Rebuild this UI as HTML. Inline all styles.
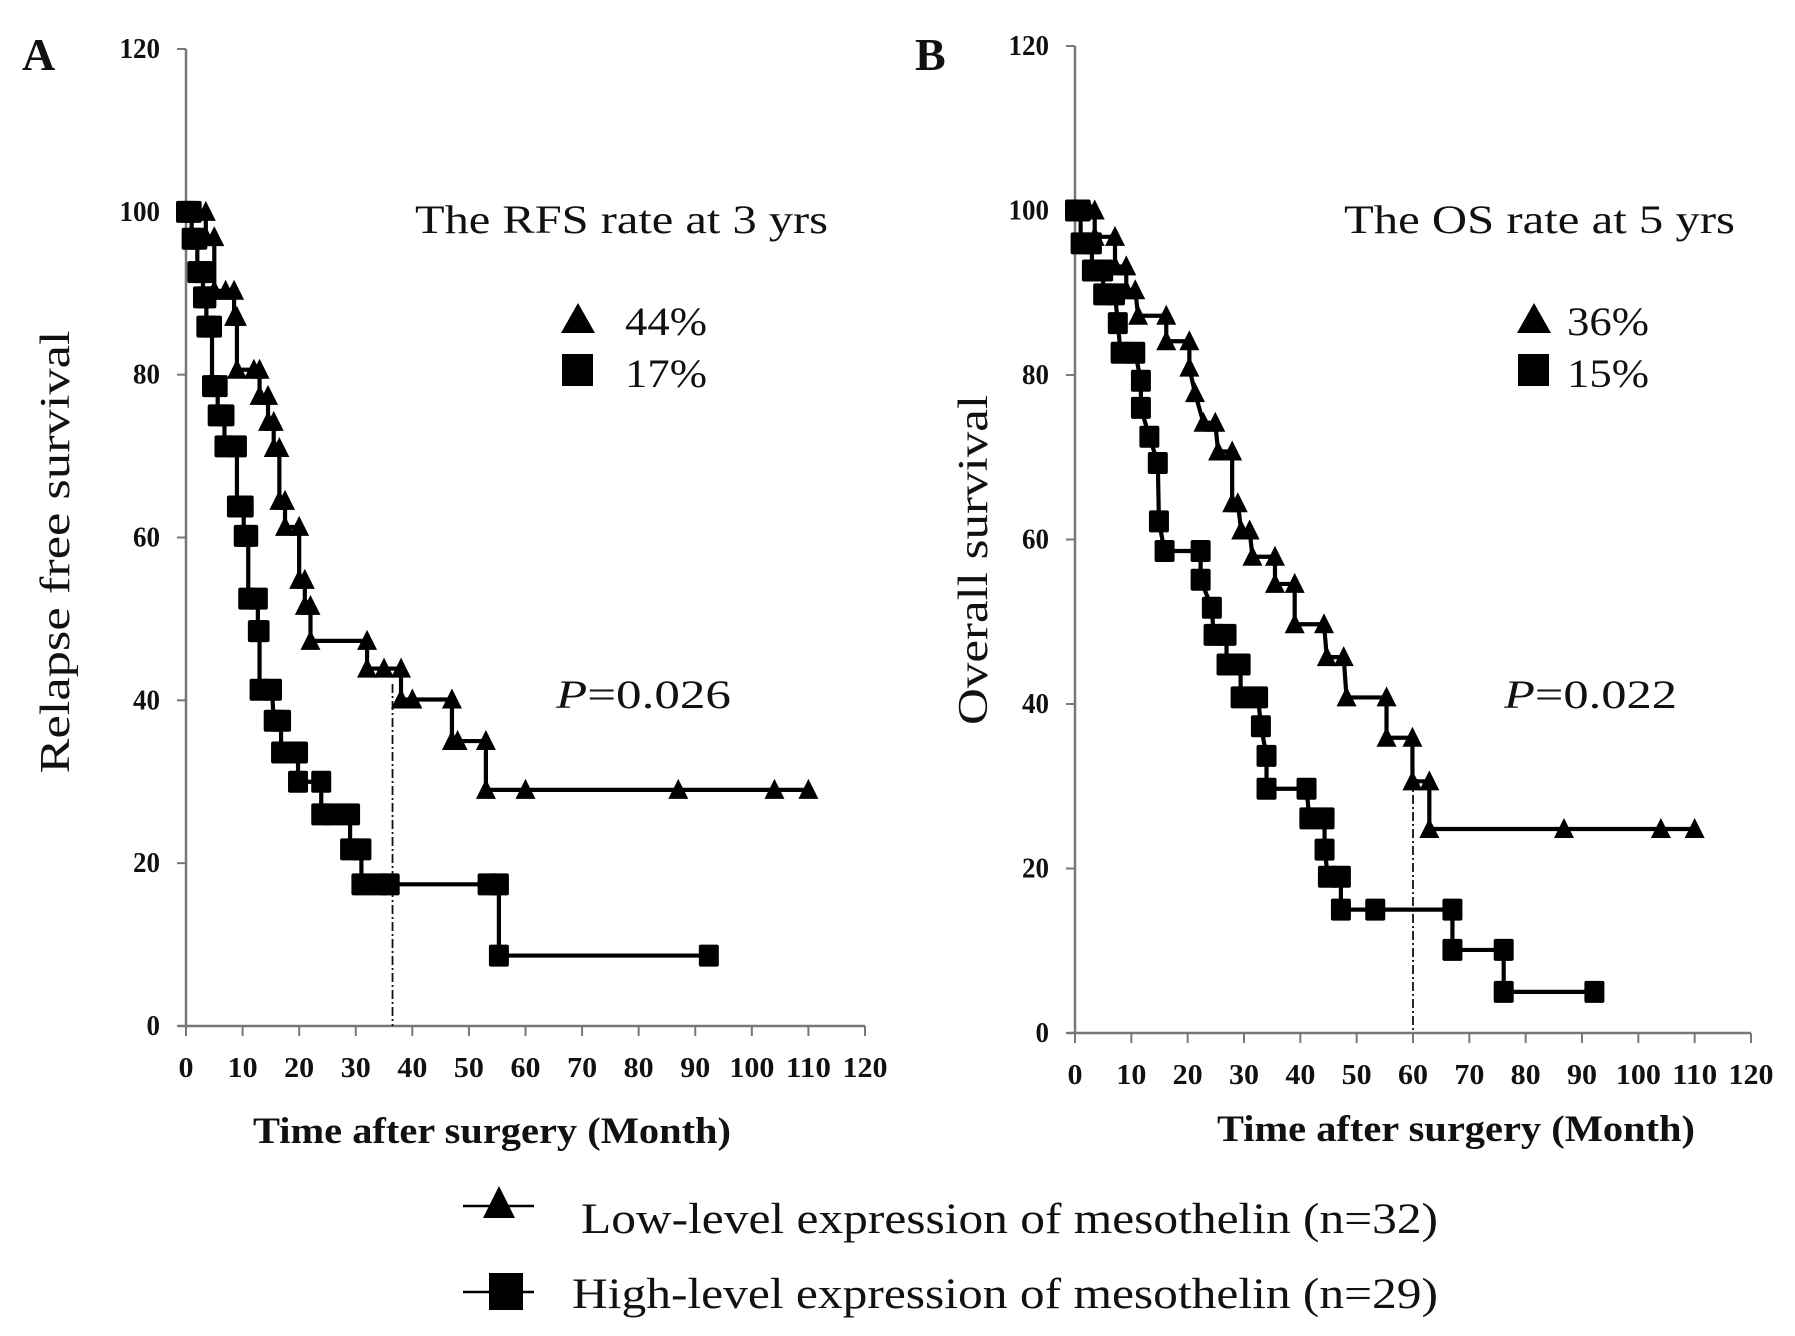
<!DOCTYPE html>
<html><head><meta charset="utf-8">
<style>
html,body{margin:0;padding:0;background:#fff;}
svg{display:block;}
text{font-family:"Liberation Serif",serif;fill:#111;}
</style></head>
<body>
<svg id="chart" width="1795" height="1336" viewBox="0 0 1795 1336" xmlns="http://www.w3.org/2000/svg">
</svg>
<script>
// ---- Panel A data (Relapse free survival) ----
const lowA_months = [0,2,3.5,3.5,5,5,7,8.5,8.5,9,9,12,13,13,14.5,14.5,15.5,15.5,16.5,16.5,17.5,17.5,20,20,21,21,22,22,32,32,35,38,38,40,47,47,48,53,53,60,87,104,110];
const lowA_values = [100,100,100,96.9,96.9,90.3,90.3,90.3,87.1,87.1,80.6,80.6,80.6,77.4,77.4,74.2,74.2,71,71,64.5,64.5,61.3,61.3,54.8,54.8,51.6,51.6,47.3,47.3,43.9,43.9,43.9,40.1,40.1,40.1,35,35,35,29,29,29,29,29];
const highA_months = [0,1,1,2,2,3,3,3.6,3.6,4.6,4.6,5.6,5.6,6.8,6.8,9,9,10.2,10.2,11,11,12.7,12.7,13,13,15.2,15.5,16.8,16.8,19.8,19.8,23.9,23.9,26,29,29,31,31,34,36,53.3,55.3,55.3,92.4];
const highA_values = [100,100,96.7,96.7,92.6,92.6,89.5,89.5,85.9,85.9,78.6,78.6,75,75,71.2,71.2,63.8,63.8,60.2,60.2,52.5,52.5,48.5,48.5,41.3,41.3,37.5,37.5,33.6,33.6,30,30,26,26,26,21.7,21.7,17.4,17.4,17.4,17.4,17.4,8.65,8.65];
// ---- Panel B data (Overall survival) ----
const lowB_months = [0,2.5,3.5,3.5,7.1,7.1,9.1,9.1,10.7,11.2,16.2,16.2,20.3,20.3,21.3,22.8,24.9,25.4,27.9,27.9,28.9,29.5,31,31.5,35.5,35.5,39,39,44.2,44.7,47.7,48.2,55.3,55.3,59.9,59.9,62.9,62.9,86.8,104,110];
const lowB_values = [100,100,100,96.8,96.8,93.2,93.2,90.3,90.3,87.2,87.2,84.1,84.1,80.9,77.8,74.2,74.2,70.7,70.7,64.4,64.4,61.1,61.1,57.9,57.9,54.6,54.6,49.7,49.7,45.7,45.7,40.8,40.8,35.9,35.9,30.6,30.6,24.8,24.8,24.8,24.8];
const highB_months = [0,1,1,3,3,5,5,7.1,7.6,8.1,10.7,11.7,11.7,13.2,14.7,14.9,15.9,22.3,22.3,24.3,24.6,26.9,26.9,29.4,29.4,32.5,33,34,34,41.1,41.6,44.3,44.3,44.9,47.2,47.2,53.3,67,67,76.1,76.1,92.2];
const highB_values = [100,100,96,96,92.7,92.7,89.8,89.8,86.3,82.7,82.7,79.3,76,72.5,69.3,62.2,58.6,58.6,55.1,51.7,48.4,48.4,44.8,44.8,40.8,40.8,37.3,33.7,29.7,29.7,26.1,26.1,22.3,19,19,15,15,15,10.1,10.1,5,5];
const xTicks = [0,10,20,30,40,50,60,70,80,90,100,110,120];
const yTicks = [0,20,40,60,80,100,120];
const refA = [36.5, 42];
const refB = [60, 31];

const NS = "http://www.w3.org/2000/svg";
const svg = document.getElementById('chart');
function mk(tag, attrs, parent){
  const e = document.createElementNS(NS, tag);
  for (const k in attrs) e.setAttribute(k, attrs[k]);
  (parent||svg).appendChild(e);
  return e;
}
const LA = 'spacingAndGlyphs';

function panel(cfg){
  const g = mk('g', {});
  
  
  const X = m => cfg.x0 + (m/120)*(cfg.x1-cfg.x0);
  const Y = v => cfg.y0 - (v/120)*(cfg.y0-cfg.y1);
  const xa = mk('line',{x1:cfg.x0-8,y1:cfg.y0,x2:cfg.x1,y2:cfg.y0,stroke:'#777','stroke-width':2.5},g);
  
  
  const ya = mk('line',{x1:cfg.x0,y1:cfg.y1,x2:cfg.x0,y2:cfg.y0,stroke:'#777','stroke-width':2.5},g);
  
  
  xTicks.forEach(t=>{
    mk('line',{x1:X(t),y1:cfg.y0,x2:X(t),y2:cfg.y0+10,stroke:'#777','stroke-width':2},g);
    const s = String(t);
    const tl = mk('text',{x:X(t),y:cfg.y0+51,'text-anchor':'middle','font-size':29,'font-weight':'bold',textLength:s.length*15,lengthAdjust:LA},g);
    tl.textContent = s;
    
    
  });
  yTicks.forEach(t=>{
    mk('line',{x1:cfg.x0-9,y1:Y(t),x2:cfg.x0,y2:Y(t),stroke:'#777','stroke-width':2},g);
    const s = String(t);
    const tl = mk('text',{x:cfg.x0-26,y:Y(t)+9,'text-anchor':'end','font-size':29,'font-weight':'bold',textLength:s.length*13.5,lengthAdjust:LA},g);
    tl.textContent = s;
    
    
  });
  const rl = mk('line',{x1:X(cfg.ref[0]),y1:Y(cfg.ref[1]),x2:X(cfg.ref[0]),y2:cfg.y0,stroke:'#111','stroke-width':1.8,'stroke-dasharray':'9 3 2 3'},g);
  
  
  function series(ms, vs, shape, nm){
    const sg = mk('g',{},g);
    
    
    const pts = ms.map((m,i)=>X(m)+','+Y(vs[i])).join(' ');
    mk('polyline',{points:pts,fill:'none',stroke:'#000','stroke-width':4.2},sg);
    ms.forEach((m,i)=>{
      const cx = X(m), cy = Y(vs[i]);
      let mkEl;
      if (shape==='tri'){
        mkEl = mk('polygon',{points:`${cx},${cy-11} ${cx-10},${cy+9} ${cx+10},${cy+9}`,fill:'#000'},sg);
      } else {
        mkEl = mk('rect',{x:cx-10,y:cy-11,width:20,height:22,rx:2,fill:'#000'},sg);
      }
      
      
    });
  }
  series(cfg.lowM, cfg.lowV, 'tri', 'low-expression-series');
  series(cfg.highM, cfg.highV, 'sq', 'high-expression-series');
}

panel({name:'panel-a', x0:186, x1:865, y0:1026, y1:49, lowM:lowA_months, lowV:lowA_values, highM:highA_months, highV:highA_values, ref:refA});
panel({name:'panel-b', x0:1075, x1:1751, y0:1033, y1:46, lowM:lowB_months, lowV:lowB_values, highM:highB_months, highV:highB_values, ref:refB});

function txt(s, attrs, nm){
  const t = mk('text', attrs);
  t.textContent = s;
  
  
  return t;
}
txt('A',{x:22,y:70,'font-size':46,'font-weight':'bold'},'panel-a-label');
txt('B',{x:915,y:70,'font-size':46,'font-weight':'bold'},'panel-b-label');
txt('The RFS rate at 3 yrs',{x:415,y:233,'font-size':40,textLength:413,lengthAdjust:LA},'panel-a-annotation');
txt('The OS rate at 5 yrs',{x:1344,y:233,'font-size':40,textLength:391,lengthAdjust:LA},'panel-b-annotation');
mk('polygon',{points:'578,303 561,333 595,333',fill:'#000'});
mk('rect',{x:562,y:354,width:31,height:32,fill:'#000'});
txt('44%',{x:625,y:335,'font-size':40,textLength:82,lengthAdjust:LA},'rate-low-a');
txt('17%',{x:625,y:387,'font-size':40,textLength:82,lengthAdjust:LA},'rate-high-a');
mk('polygon',{points:'1534,303 1517,333 1551,333',fill:'#000'});
mk('rect',{x:1518,y:354,width:31,height:32,fill:'#000'});
txt('36%',{x:1567,y:335,'font-size':40,textLength:82,lengthAdjust:LA},'rate-low-b');
txt('15%',{x:1567,y:387,'font-size':40,textLength:82,lengthAdjust:LA},'rate-high-b');
const pA = txt('',{x:556,y:708,'font-size':40,textLength:175,lengthAdjust:LA},'p-value-a');
pA.innerHTML = '<tspan font-style="italic">P</tspan>=0.026';
const pB = txt('',{x:1504,y:708,'font-size':40,textLength:173,lengthAdjust:LA},'p-value-b');
pB.innerHTML = '<tspan font-style="italic">P</tspan>=0.022';
txt('Relapse free survival',{x:0,y:0,'font-size':42,'text-anchor':'middle',transform:'translate(69,552) rotate(-90)',textLength:443,lengthAdjust:LA},'y-axis-title-a');
txt('Overall survival',{x:0,y:0,'font-size':42,'text-anchor':'middle',transform:'translate(987,560) rotate(-90)',textLength:330,lengthAdjust:LA},'y-axis-title-b');
txt('Time after surgery (Month)',{x:492,y:1143,'font-size':37,'font-weight':'bold','text-anchor':'middle',textLength:478,lengthAdjust:LA},'x-axis-title-a');
txt('Time after surgery (Month)',{x:1456,y:1141,'font-size':37,'font-weight':'bold','text-anchor':'middle',textLength:478,lengthAdjust:LA},'x-axis-title-b');
const lg = mk('g',{});


mk('line',{x1:463,y1:1206,x2:534,y2:1206,stroke:'#000','stroke-width':2.5},lg);
mk('polygon',{points:'499,1186 483,1218 515,1218',fill:'#000'},lg);
mk('line',{x1:463,y1:1292,x2:534,y2:1292,stroke:'#000','stroke-width':2.5},lg);
mk('rect',{x:489,y:1273,width:34,height:37,fill:'#000'},lg);
txt('Low-level  expression of mesothelin  (n=32)',{x:581,y:1233,'font-size':43,textLength:857,lengthAdjust:LA},'legend-low-label');
txt('High-level expression of mesothelin  (n=29)',{x:572,y:1308,'font-size':43,textLength:866,lengthAdjust:LA},'legend-high-label');
</script>
</body></html>
